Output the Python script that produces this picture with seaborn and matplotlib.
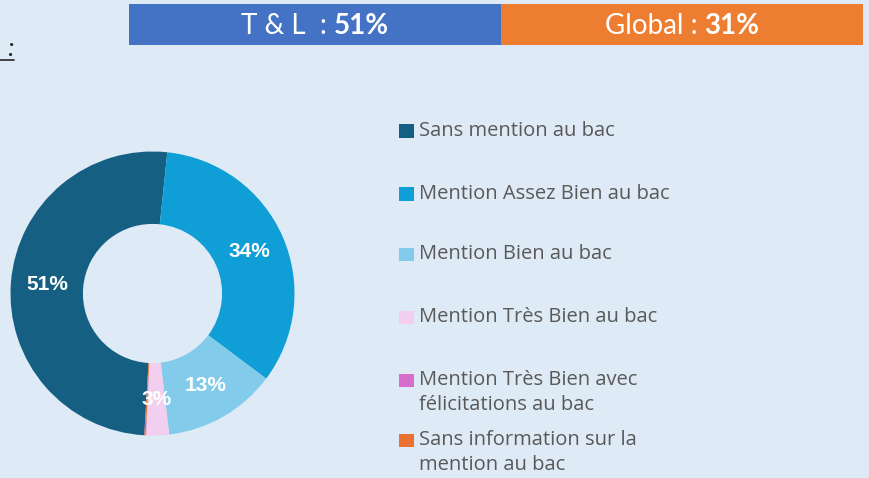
import matplotlib
matplotlib.use("Agg")
import matplotlib.pyplot as plt
import seaborn as sns
from matplotlib.patches import Rectangle
from matplotlib.lines import Line2D

# ---- data ----
categories = ["Sans mention au bac", "Mention Assez Bien au bac", "Mention Bien au bac",
              "Mention Très Bien au bac", "Mention Très Bien avec\nfélicitations au bac",
              "Sans information sur la\nmention au bac"]
values = [50.8, 33.6, 12.9, 2.6, 0.05, 0.15]
colors = ["#156082", "#0F9ED5", "#83CBEB", "#F2CFEE", "#D86ECC", "#E97132"]
banner_labels = ["T & L  : ", "Global : "]
banner_values = ["51%", "31%"]
banner_colors = ["#4472C4", "#ED7D31"]

BG = "#DEEAF6"
W, H = 869, 478
sns.set_theme(style="white", rc={"figure.facecolor": BG, "axes.facecolor": BG,
                                 "savefig.facecolor": BG})
palette = sns.color_palette(colors)

fig = plt.figure(figsize=(W / 100, H / 100), dpi=100)


def fx(x):
    return x / W


def fy(y):
    return 1 - y / H


# ---- donut ----
cx, cy, R = 152.5, 293.5, 142
ax = fig.add_axes([(cx - R) / W, (H - cy - R) / H, 2 * R / W, 2 * R / H])
start = 84 + 360 * values[0] / sum(values)
wedges, texts, autotexts = ax.pie(
    values, colors=palette, startangle=start, counterclock=False,
    wedgeprops=dict(width=0.51, linewidth=0),
    autopct=lambda p: f"{p:.0f}%" if p >= 1 else "",
    pctdistance=0.745,
    textprops=dict(color="white", fontsize=15, fontweight="bold",
                   family="Liberation Sans"))
ax.set_xlim(-1, 1)
ax.set_ylim(-1, 1)
ax.set_aspect("equal")
ax.axis("off")

# ---- legend ----
rows = [131, 194, 254, 317, 380, 440]
line_step = 25
for lab, col, y in zip(categories, palette, rows):
    fig.add_artist(Rectangle((fx(399), fy(y + 6.5)), 15 / W, 13 / H,
                             transform=fig.transFigure, facecolor=col, edgecolor="none"))
    for i, line in enumerate(lab.split("\n")):
        fig.text(fx(419), fy(y + i * line_step), line, ha="left", va="center",
                 fontsize=14.5, color="#595959", family="Open Sans")

# ---- banner ----
boxes = [(129, 501), (501, 863)]
fig.canvas.draw()
renderer = fig.canvas.get_renderer()
for (x0, x1), lab, val, col in zip(boxes, banner_labels, banner_values, banner_colors):
    fig.add_artist(Rectangle((fx(x0), fy(45)), (x1 - x0) / W, 41 / H,
                             transform=fig.transFigure, facecolor=col, edgecolor="none"))
    t1 = fig.text(0, fy(26), lab, ha="left", va="center", fontsize=20,
                  color="white", family="Lato")
    t2 = fig.text(0, fy(26), val, ha="left", va="center", fontsize=20,
                  color="white", family="Lato", fontweight="bold")
    w1 = t1.get_window_extent(renderer).width
    w2 = t2.get_window_extent(renderer).width
    xc = (x0 + x1) / 2
    s = xc - (w1 + w2) / 2
    t1.set_x(fx(s))
    t2.set_x(fx(s + w1))

# ---- cropped title remnant ----
fig.text(fx(10), fy(48), ":", ha="center", va="center", fontsize=19,
         color="#262626", family="Lato", style="italic")
fig.add_artist(Line2D([fx(0), fx(14)], [fy(59.5), fy(59.5)], transform=fig.transFigure,
                      color="#262626", linewidth=1.2))

fig.savefig("out.png", dpi=100, facecolor=BG)
